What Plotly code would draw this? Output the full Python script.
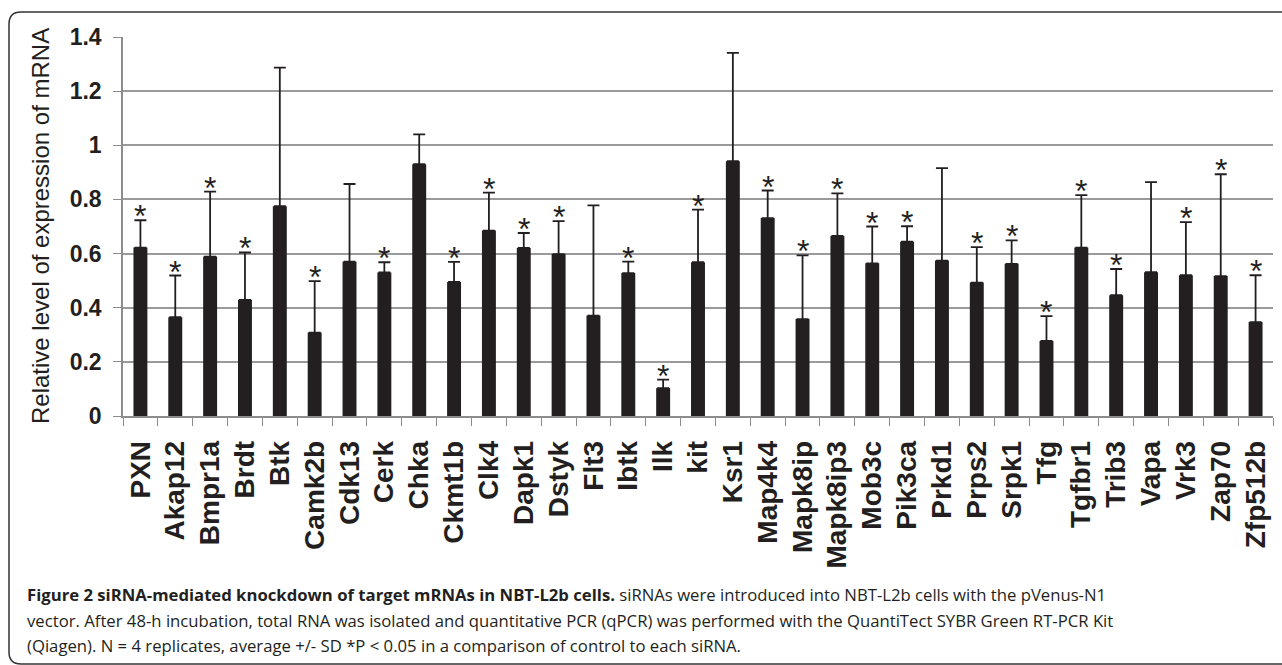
import plotly.graph_objects as go

genes = ["PXN", "Akap12", "Bmpr1a", "Brdt", "Btk", "Camk2b", "Cdk13", "Cerk", "Chka",
         "Ckmt1b", "Clk4", "Dapk1", "Dstyk", "Flt3", "Ibtk", "Ilk", "kit", "Ksr1",
         "Map4k4", "Mapk8ip", "Mapk8ip3", "Mob3c", "Pik3ca", "Prkd1", "Prps2", "Srpk1",
         "Tfg", "Tgfbr1", "Trib3", "Vapa", "Vrk3", "Zap70", "Zfp512b"]
mean_expr = [0.622, 0.365, 0.589, 0.429, 0.775, 0.308, 0.570, 0.530, 0.930,
             0.495, 0.685, 0.621, 0.598, 0.371, 0.528, 0.103, 0.568, 0.941,
             0.731, 0.358, 0.665, 0.564, 0.644, 0.574, 0.493, 0.562,
             0.277, 0.622, 0.446, 0.531, 0.520, 0.517, 0.347]
sd_upper = [0.723, 0.519, 0.829, 0.604, 1.287, 0.498, 0.857, 0.568, 1.040,
            0.569, 0.825, 0.676, 0.720, 0.778, 0.570, 0.134, 0.762, 1.341,
            0.833, 0.593, 0.822, 0.700, 0.701, 0.916, 0.624, 0.649,
            0.369, 0.816, 0.543, 0.864, 0.716, 0.893, 0.520]
significant = [1, 1, 1, 1, 0, 1, 0, 1, 0,
               1, 1, 1, 1, 0, 1, 1, 1, 0,
               1, 1, 1, 1, 1, 0, 1, 1,
               1, 1, 1, 0, 1, 1, 1]
y_ticks = [0, 0.2, 0.4, 0.6, 0.8, 1, 1.2, 1.4]
y_ticktext = ["0", "0.2", "0.4", "0.6", "0.8", "1", "1.2", "1.4"]

sd = [u - m for u, m in zip(sd_upper, mean_expr)]

W, H = 1282, 665
ML, MR, MT, MB = 123, 9, 37, 249
PW, PH = W - ML - MR, H - MT - MB

def px(x):
    return (x - ML) / PW

def py(y):
    return (H - MB - y) / PH

fig = go.Figure()
fig.add_trace(go.Bar(
    x=genes, y=mean_expr,
    marker=dict(color="#231f20", line=dict(width=0)),
    error_y=dict(type="data", array=sd, arrayminus=[0] * len(sd), symmetric=False,
                 color="#231f20", thickness=1.8, width=6),
    showlegend=False,
))

for g, u, s in zip(genes, sd_upper, significant):
    if s:
        fig.add_annotation(x=g, y=u, text="*", showarrow=False,
                           xanchor="center", yanchor="middle", yshift=4,
                           font=dict(family="Liberation Sans, Arial", size=32, color="#231f20"))

fig.update_layout(
    template="none",
    width=W, height=H,
    margin=dict(l=ML, r=MR, t=MT, b=MB, pad=0, autoexpand=False),
    paper_bgcolor="white", plot_bgcolor="white",
    bargap=0.6,
    font=dict(family="Liberation Sans, Arial", color="#231f20"),
)
fig.update_xaxes(
    type="category", range=[-0.5, len(genes) - 0.5], tickangle=-90, tickson="boundaries",
    automargin=False,
    ticks="outside", ticklen=8, tickcolor="#8c8c8c", tickwidth=1.2,
    showline=True, linecolor="#8c8c8c", linewidth=1.5,
    showgrid=False,
    tickfont=dict(family="Liberation Sans, Arial", size=28, color="#231f20", weight="bold"),
    ticklabelstandoff=12,
)
fig.update_yaxes(
    range=[0, 1.4], tickvals=y_ticks, ticktext=y_ticktext, automargin=False,
    ticks="outside", ticklen=8, tickcolor="#8c8c8c", tickwidth=1.2,
    showline=True, linecolor="#8c8c8c", linewidth=1.5,
    showgrid=True, gridcolor="#9a9a9a", gridwidth=1.5,
    zeroline=False,
    tickfont=dict(family="Liberation Sans, Arial", size=23, color="#231f20", weight="bold"),
    ticklabelstandoff=7,
)

fig.add_annotation(
    text="Relative level of expression of mRNA", textangle=-90,
    xref="paper", yref="paper", x=px(40), y=py(226), xanchor="center", yanchor="middle",
    showarrow=False, font=dict(family="Liberation Sans, Arial", size=24, color="#231f20"),
)

cap_font = dict(family="Open Sans, Noto Sans", size=16.7, color="#231f20")
lines = [
    "<b>Figure 2 siRNA-mediated knockdown of target mRNAs in NBT-L2b cells.</b> siRNAs were introduced into NBT-L2b cells with the pVenus-N1",
    "vector. After 48-h incubation, total RNA was isolated and quantitative PCR (qPCR) was performed with the QuantiTect SYBR Green RT-PCR Kit",
    "(Qiagen). N = 4 replicates, average +/- SD *P < 0.05 in a comparison of control to each siRNA.",
]
for t, yy in zip(lines, [594, 620, 645]):
    fig.add_annotation(text=t, xref="paper", yref="paper", x=px(25), y=py(yy),
                       xanchor="left", yanchor="middle", showarrow=False, font=cap_font)

# rounded border box (open on the right, which runs past the picture edge)
x0, x1, y0, y1 = px(9), px(1400), py(12), py(664)
rx, ry = 12 / PW, 12 / PH
path = (f"M {x1},{y0} L {x0+rx},{y0} Q {x0},{y0} {x0},{y0-ry} "
        f"L {x0},{y1+ry} Q {x0},{y1} {x0+rx},{y1} L {x1},{y1}")
fig.add_shape(type="path", path=path, xref="paper", yref="paper",
              line=dict(color="#333333", width=1.5), layer="above")

fig.write_html("out.html", config={"displayModeBar": False},
               post_script="document.body.style.margin='0';document.body.style.overflow='hidden';")
